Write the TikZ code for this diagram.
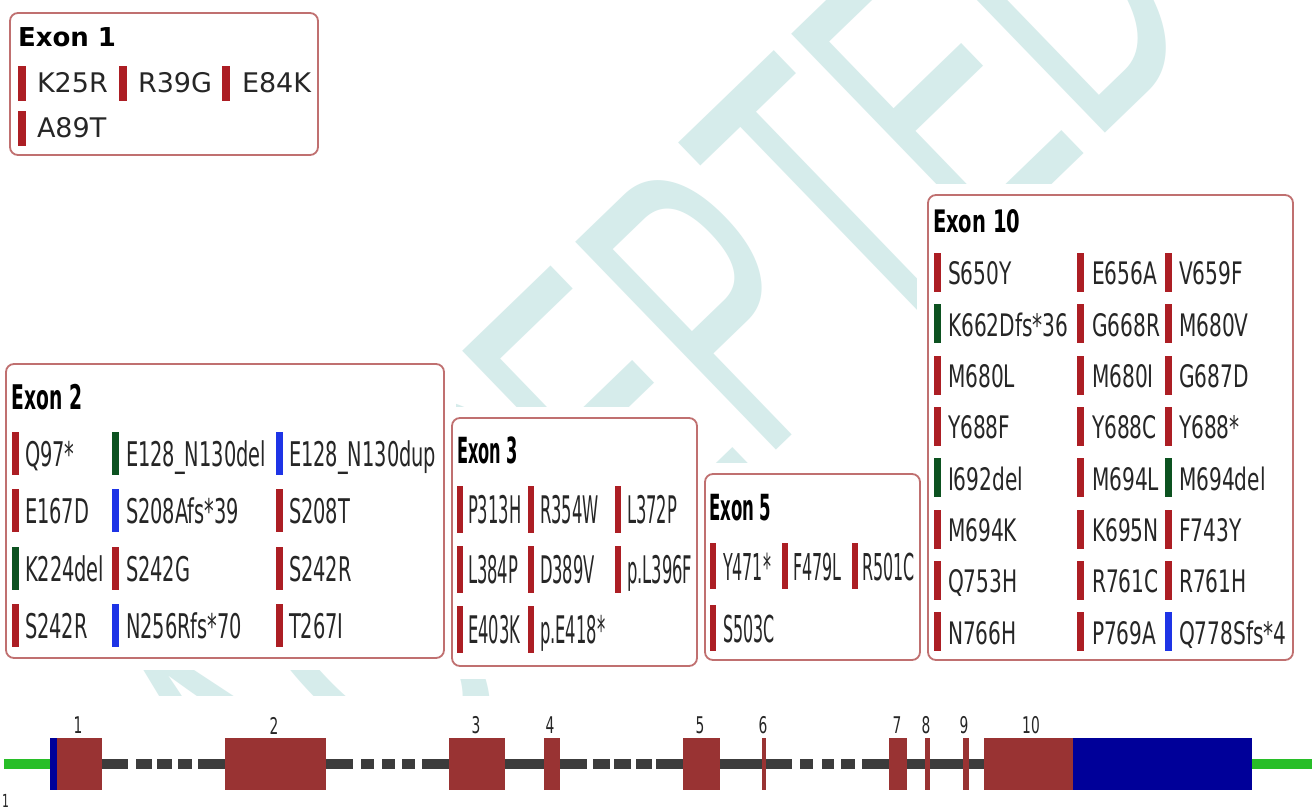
\documentclass[tikz,border=0pt]{standalone}
\usepackage{fontspec}
\usepackage{graphicx}
\newfontfamily\vfont{DejaVu Sans}
\newfontfamily\wmfont{Liberation Sans}
\definecolor{mred}{RGB}{172,30,36}
\definecolor{mgreen}{RGB}{12,82,32}
\definecolor{mblue}{RGB}{30,52,230}
\definecolor{boxline}{RGB}{192,112,112}
\definecolor{txt}{RGB}{38,38,38}
\definecolor{wmcol}{RGB}{214,236,235}
\definecolor{exred}{RGB}{153,51,51}
\definecolor{exblue}{RGB}{0,0,153}
\definecolor{intron}{RGB}{60,60,60}
\definecolor{utr}{RGB}{40,190,40}
\tikzset{
  exbox/.style={draw=boxline, line width=1.8pt, fill=white, rounded corners=8pt},
  margin/.style={fill=white},
  mtext/.style={anchor=base west, inner sep=0pt, outer sep=0pt, text=txt, font=\vfont},
  ttext/.style={anchor=base west, inner sep=0pt, outer sep=0pt, text=black, font=\vfont\bfseries},
  numlab/.style={inner sep=0pt, text=black!85, font=\vfont},
  wm/.style={inner sep=0pt, text=wmcol, font={\wmfont\fontsize{420}{420}\selectfont}},
}
\newcommand{\mut}[6]{%
  \fill[#2] (#3,#5-\bt) rectangle (#3+\bw,#5+\bb);
  \node[mtext] (#1) at (#4,#5) {\scalebox{\sx}[1]{\fontsize{\fs}{\fs}\selectfont #6}};
}
\begin{document}
\begin{tikzpicture}[x=1pt,y=-1pt]
\useasboundingbox (0,0) rectangle (1314,810);
\fill[white] (0,0) rectangle (1314,810);
% watermark
\begin{scope}
  \clip (0,0) rectangle (1314,695);
  \node[wm, rotate=44, anchor=base] (wmark) at (753,473) {\scalebox{0.56}[1]{ACCEPTED}};
\end{scope}
% white margins around boxes
\fill[margin] (0,2) rectangle (329,166);
\fill[margin] (0,353) rectangle (456,670);
\fill[margin] (441,407) rectangle (708,679);
\fill[margin] (694,463) rectangle (931,671);
\fill[margin] (917,184) rectangle (1304,671);
% boxes
\draw[exbox] (10,13) rectangle (318,155);
\draw[exbox] (6,364) rectangle (444,658);
\draw[exbox] (452,418) rectangle (697,666);
\draw[exbox] (705,474) rectangle (920,660);
\draw[exbox] (928,195) rectangle (1293,660);

% ---- Exon 1
\node[ttext] (t1) at (18,47) {\fontsize{26}{26}\selectfont Exon 1};
\def\fs{27}\def\sx{1}\def\bt{27}\def\bb{8}\def\bw{8}
\mut{e1a}{mred}{18}{37}{93}{K25R}
\mut{e1b}{mred}{119}{138}{93}{R39G}
\mut{e1c}{mred}{222}{242}{93}{E84K}
\mut{e1d}{mred}{18}{37}{138}{A89T}

% ---- Exon 2
\node[ttext] (t2) at (12,409) {\scalebox{0.55}[1]{\fontsize{34}{34}\selectfont Exon 2}};
\def\fs{34}\def\sx{0.57}\def\bt{34}\def\bb{9}\def\bw{7}
\mut{e2a}{mred}{12}{25}{466}{Q97*}
\mut{e2b}{mgreen}{112}{126}{466}{E128\_N130del}
\mut{e2c}{mblue}{276}{289}{466}{E128\_N130dup}
\mut{e2d}{mred}{12}{25}{523}{E167D}
\mut{e2e}{mblue}{112}{126}{523}{S208Afs*39}
\mut{e2f}{mred}{276}{289}{523}{S208T}
\mut{e2g}{mgreen}{12}{25}{581}{K224del}
\mut{e2h}{mred}{112}{126}{581}{S242G}
\mut{e2i}{mred}{276}{289}{581}{S242R}
\mut{e2j}{mred}{12}{25}{638}{S242R}
\mut{e2k}{mblue}{112}{126}{638}{N256Rfs*70}
\mut{e2l}{mred}{276}{289}{638}{T267I}

% ---- Exon 3
\node[ttext] (t3) at (457,463) {\scalebox{0.45}[1]{\fontsize{36}{36}\selectfont Exon 3}};
\def\fs{38}\def\sx{0.43}\def\bt{37}\def\bb{10}\def\bw{6}
\mut{e3a}{mred}{457}{468}{523}{P313H}
\mut{e3b}{mred}{528}{540}{523}{R354W}
\mut{e3c}{mred}{615}{627}{523}{L372P}
\mut{e3d}{mred}{457}{468}{583}{L384P}
\mut{e3e}{mred}{528}{540}{583}{D389V}
\mut{e3f}{mred}{615}{627}{583}{p.L396F}
\mut{e3g}{mred}{457}{468}{643}{E403K}
\mut{e3h}{mred}{528}{540}{643}{p.E418*}

% ---- Exon 5
\node[ttext] (t5) at (709,520) {\scalebox{0.46}[1]{\fontsize{36}{36}\selectfont Exon 5}};
\def\fs{37}\def\sx{0.43}\def\bt{37}\def\bb{9}\def\bw{6}
\mut{e5a}{mred}{710}{723}{580}{Y471*}
\mut{e5b}{mred}{782}{793}{580}{F479L}
\mut{e5c}{mred}{852}{862}{580}{R501C}
\mut{e5d}{mred}{710}{723}{642}{S503C}

% ---- Exon 10
\node[ttext] (t10) at (933,233) {\scalebox{0.63}[1]{\fontsize{31}{31}\selectfont Exon 10}};
\def\fs{31}\def\sx{0.65}\def\bt{32}\def\bb{7}\def\bw{7}
\mut{x1a}{mred}{934}{948}{285}{S650Y}
\mut{x1b}{mred}{1077}{1092}{285}{E656A}
\mut{x1c}{mred}{1165}{1179}{285}{V659F}
\mut{x2a}{mgreen}{934}{948}{336.3}{K662Dfs*36}
\mut{x2b}{mred}{1077}{1092}{336.3}{G668R}
\mut{x2c}{mred}{1165}{1179}{336.3}{M680V}
\mut{x3a}{mred}{934}{948}{387.6}{M680L}
\mut{x3b}{mred}{1077}{1092}{387.6}{M680I}
\mut{x3c}{mred}{1165}{1179}{387.6}{G687D}
\mut{x4a}{mred}{934}{948}{438.9}{Y688F}
\mut{x4b}{mred}{1077}{1092}{438.9}{Y688C}
\mut{x4c}{mred}{1165}{1179}{438.9}{Y688*}
\mut{x5a}{mgreen}{934}{948}{490.2}{I692del}
\mut{x5b}{mred}{1077}{1092}{490.2}{M694L}
\mut{x5c}{mgreen}{1165}{1179}{490.2}{M694del}
\mut{x6a}{mred}{934}{948}{541.5}{M694K}
\mut{x6b}{mred}{1077}{1092}{541.5}{K695N}
\mut{x6c}{mred}{1165}{1179}{541.5}{F743Y}
\mut{x7a}{mred}{934}{948}{592.8}{Q753H}
\mut{x7b}{mred}{1077}{1092}{592.8}{R761C}
\mut{x7c}{mred}{1165}{1179}{592.8}{R761H}
\mut{x8a}{mred}{934}{948}{644.1}{N766H}
\mut{x8b}{mred}{1077}{1092}{644.1}{P769A}
\mut{x8c}{mblue}{1165}{1179}{644.1}{Q778Sfs*4}

% ---- gene track
\fill[utr] (4,759) rectangle (50,769);
\fill[utr] (1252,759) rectangle (1312,769);
\foreach \a/\b in {102/128,136/152,157/172,178/192,198/225,
                   326/353,361/374,382/395,402/415,422/449,
                   505/544,560/587,593/610,614/631,636/652,656/683,
                   720/792,800/813,822/834,841/855,862/889,
                   907/925,930/963,969/984}
  \fill[intron] (\a,759) rectangle (\b,769);
\fill[exblue] (50,738) rectangle (57,790);
\foreach \a/\b in {57/102,225/326,449/505,544/560,683/720,762/766,889/907,925/930,963/969,984/1073}
  \fill[exred] (\a,738) rectangle (\b,790);
\fill[exblue] (1073,738) rectangle (1252,790);
% exon numbers
\foreach \n/\x in {1/78,2/274,3/476,4/550,5/700,6/763,7/897,8/926,9/964,10/1031}
  \node[numlab] (num\n) at (\x,725.5) {\scalebox{0.6}[1]{\fontsize{23}{23}\selectfont \n}};
\node[numlab, anchor=west] (corner) at (2,801) {\scalebox{0.6}[1]{\fontsize{18}{18}\selectfont 1}};
\end{tikzpicture}
\end{document}
